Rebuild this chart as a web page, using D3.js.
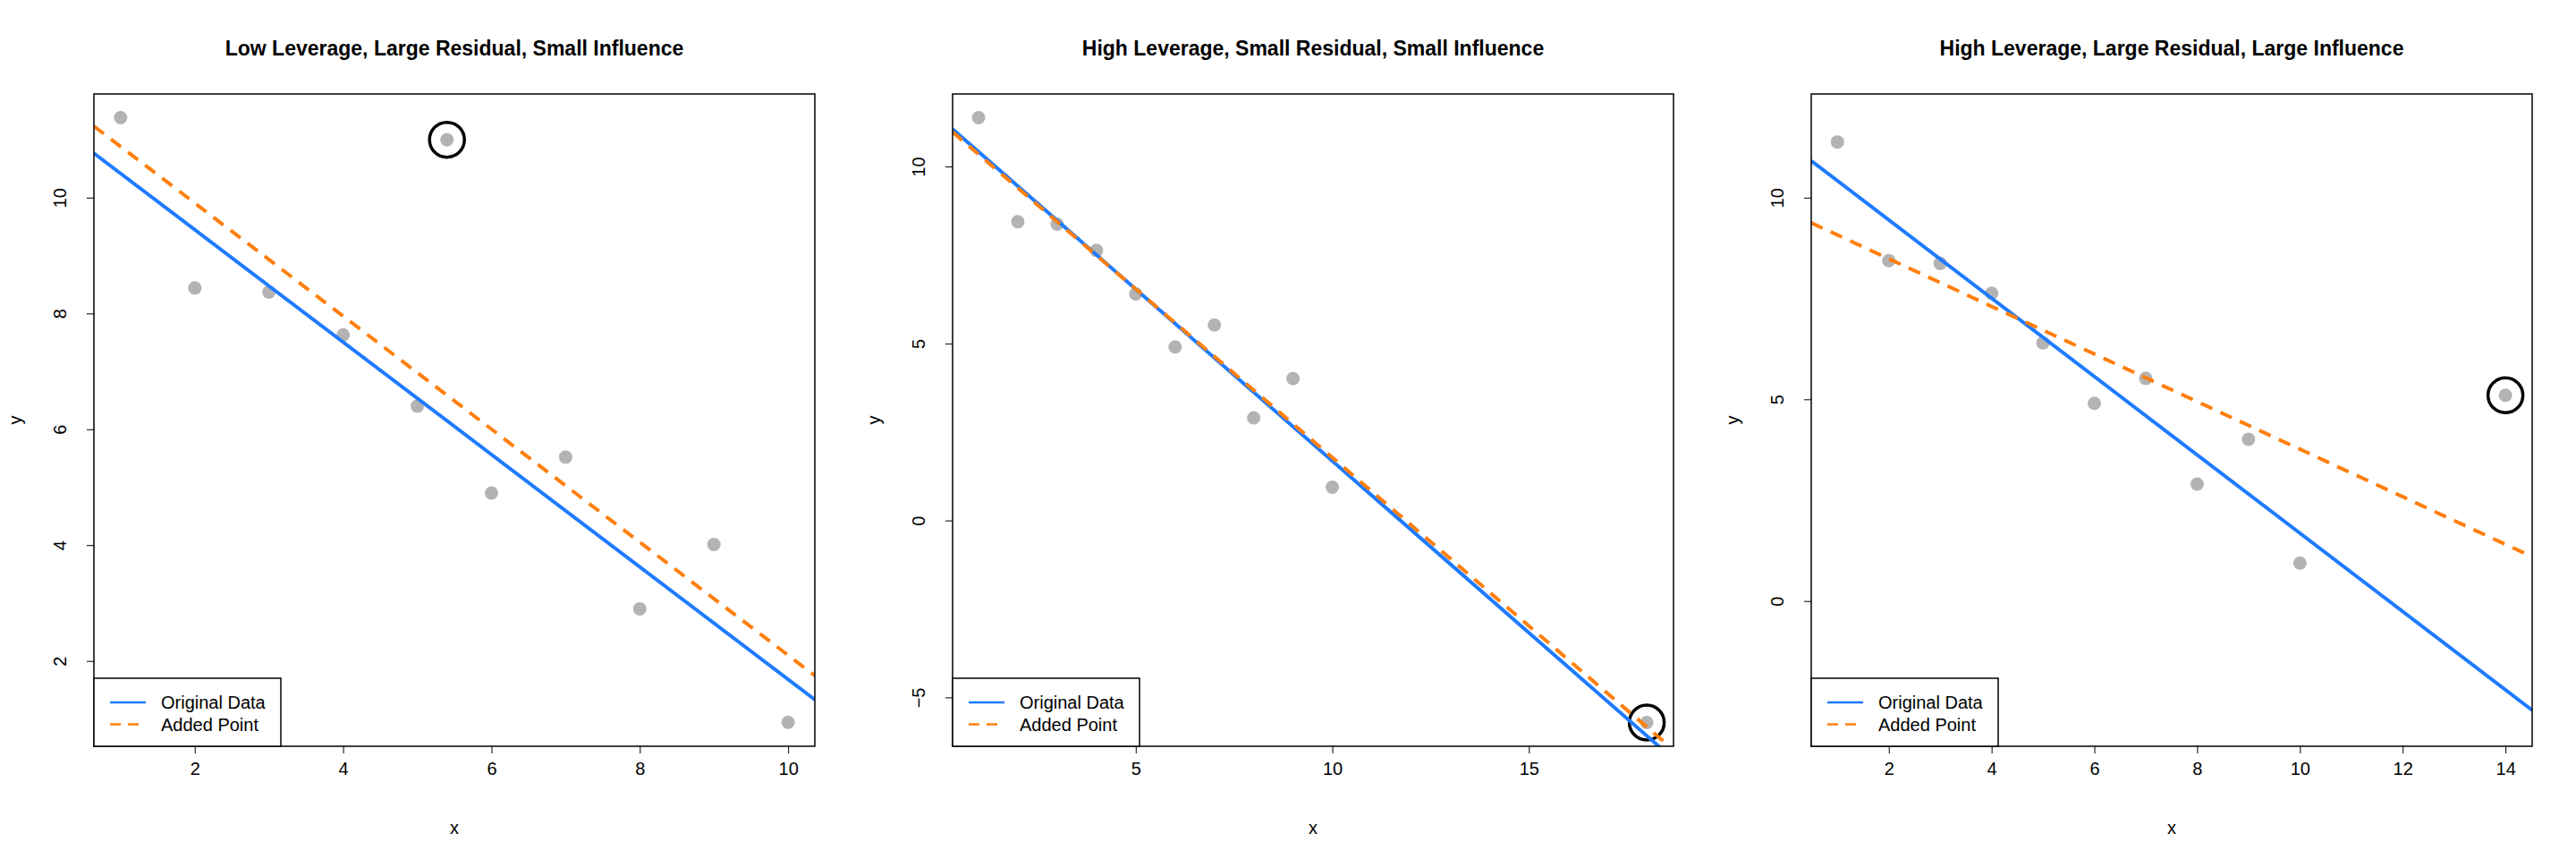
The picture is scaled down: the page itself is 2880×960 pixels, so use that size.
<!DOCTYPE html>
<html><head><meta charset="utf-8">
<script src="https://cdn.jsdelivr.net/npm/d3@7"></script>
<style>body{margin:0;background:#fff}svg{display:block}text{font-family:"Liberation Sans",Arial,sans-serif}</style>
</head><body><svg id="c" width="2880" height="960"></svg>
<script>
const baseX = [1,2,3,4,5,6,7,8,9,10];
const baseY = [11.38,8.44,8.37,7.63,6.40,4.90,5.52,2.90,4.01,0.94];
const titles = ["Low Leverage, Large Residual, Small Influence","High Leverage, Small Residual, Small Influence","High Leverage, Large Residual, Large Influence"];
const addedX = [5.4, 18, 14];
const addedY = [11.0, -5.71, 5.1];
const xDomains = [[0.64,10.36],[0.34,18.68],[0.49,14.52]];
const yDomains = [[0.527,11.79],[-6.38,12.05],[-3.6,12.57]];
const xTicks = [[2,4,6,8,10],[5,10,15],[2,4,6,8,10,12,14]];
const yTicks = [[2,4,6,8,10],[-5,0,5,10],[0,5,10]];
const legendLabels = ["Original Data","Added Point"];
const colors = {orig:"#1f7bff", added:"#ff7f0e", pt:"#b3b3b3"};

function fit(xs, ys){
  const mx=d3.mean(xs), my=d3.mean(ys);
  let sxy=0,sxx=0; xs.forEach((x,i)=>{sxy+=(x-mx)*(ys[i]-my); sxx+=(x-mx)**2;});
  const b=sxy/sxx; return {a:my-b*mx,b};
}
const svg=d3.select("#c");
for(let p=0;p<3;p++){
  const ox=p*960, L=ox+105, R=ox+911, T=105, B=834;
  const g=svg.append("g");
  const x=d3.scaleLinear().domain(xDomains[p]).range([L,R]);
  const y=d3.scaleLinear().domain(yDomains[p]).range([B,T]);
  g.append("text").attr("x",(L+R)/2).attr("y",62).attr("text-anchor","middle").attr("font-weight","bold").attr("font-size",23).text(titles[p]);
  const cp="clip"+p;
  g.append("clipPath").attr("id",cp).append("rect").attr("x",L).attr("y",T).attr("width",R-L).attr("height",B-T);
  const pg=g.append("g").attr("clip-path",`url(#${cp})`);
  const allX=baseX.concat([addedX[p]]), allY=baseY.concat([addedY[p]]);
  pg.selectAll("circle.pt").data(allX).enter().append("circle").attr("class","pt")
    .attr("cx",d=>x(d)).attr("cy",(d,i)=>y(allY[i])).attr("r",7.5).attr("fill",colors.pt);
  pg.append("circle").attr("cx",x(addedX[p])).attr("cy",y(addedY[p])).attr("r",19.5).attr("fill","none").attr("stroke","#000").attr("stroke-width",3.5);
  const f1=fit(baseX,baseY), f2=fit(allX,allY);
  const [x0,x1]=xDomains[p];
  pg.append("line").attr("x1",x(x0)).attr("x2",x(x1)).attr("y1",y(f1.a+f1.b*x0)).attr("y2",y(f1.a+f1.b*x1)).attr("stroke",colors.orig).attr("stroke-width",4);
  pg.append("line").attr("x1",x(x0)).attr("x2",x(x1)).attr("y1",y(f2.a+f2.b*x0)).attr("y2",y(f2.a+f2.b*x1)).attr("stroke",colors.added).attr("stroke-width",4).attr("stroke-dasharray","14,10");
  g.append("rect").attr("x",L).attr("y",T).attr("width",R-L).attr("height",B-T).attr("fill","none").attr("stroke","#000").attr("stroke-width",1.5);
  const xa=g.append("g").attr("transform",`translate(0,${B})`).call(d3.axisBottom(x).tickValues(xTicks[p]).tickSize(8).tickPadding(10).tickFormat(d3.format("d")));
  xa.select(".domain").remove();
  xa.selectAll("text").attr("font-size",20).attr("fill","#000");
  const ya=g.append("g").attr("transform",`translate(${L},0)`).call(d3.axisLeft(y).tickValues(yTicks[p]).tickSize(8).tickFormat(d3.format("d")));
  ya.select(".domain").remove();
  ya.selectAll("text").attr("font-size",20).attr("fill","#000").attr("text-anchor","middle")
    .attr("x",-38).attr("y",0).attr("dy","0.35em").attr("transform","rotate(-90,-38,0)");
  g.append("text").attr("x",(L+R)/2).attr("y",932).attr("text-anchor","middle").attr("font-size",20).text("x");
  g.append("text").attr("transform",`translate(${ox+24},${(T+B)/2}) rotate(-90)`).attr("text-anchor","middle").attr("font-size",20).text("y");
  const lg=g.append("g");
  lg.append("rect").attr("x",L).attr("y",758).attr("width",209).attr("height",B-758).attr("fill","#fff").attr("stroke","#000").attr("stroke-width",1.5);
  legendLabels.forEach((t,i)=>{
    const yy=785+i*24.5;
    lg.append("line").attr("x1",L+18).attr("x2",L+58).attr("y1",yy).attr("y2",yy).attr("stroke",i?colors.added:colors.orig).attr("stroke-width",2.5).attr("stroke-dasharray",i?"12,8":null);
    lg.append("text").attr("x",L+75).attr("y",yy).attr("dy","0.35em").attr("font-size",20).text(t);
  });
}
</script></body></html>
